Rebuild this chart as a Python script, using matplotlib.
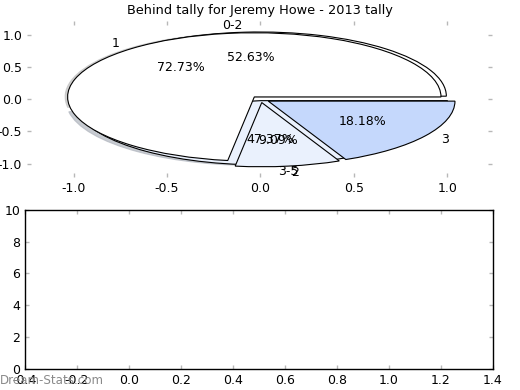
import matplotlib
matplotlib.use("Agg")
import matplotlib.pyplot as plt

title = "Behind tally for Jeremy Howe - 2013 tally"

# Pie A: goals-range tally
labels_a = ["0-2", "3-5"]
values_a = [10, 9]
colors_a = ["white", "#eaf1fd"]

# Pie B: tally per count
labels_b = ["1", "2", "3"]
values_b = [8, 1, 2]
colors_b = ["white", "#eaf1fd", "#c5d8fc"]

explode_a = [0.05, 0.02]
explode_b = [0.05, 0.05, 0.05]

bar_xlim = (-0.4, 1.4)
bar_ylim = (0, 10)
bar_xticks = [-0.4, -0.2, 0.0, 0.2, 0.4, 0.6, 0.8, 1.0, 1.2, 1.4]
bar_yticks = [0, 2, 4, 6, 8, 10]

plt.rcParams["font.family"] = "DejaVu Sans"
plt.rcParams["font.size"] = 9
plt.rcParams["axes.unicode_minus"] = False

fig = plt.figure(figsize=(5.2, 3.9), dpi=100)
ax1 = fig.add_axes([0.052, 0.546, 0.894, 0.400])
ax2 = fig.add_axes([0.048, 0.054, 0.900, 0.408])

ax1.pie(values_a, labels=labels_a, colors=colors_a, explode=explode_a,
        autopct="%1.2f%%", startangle=0,
        shadow={"ox": -0.03, "oy": -0.006, "shade": 0.25, "alpha": 0.7},
        wedgeprops=dict(edgecolor="black", linewidth=0.8))
ax1.pie(values_b, labels=labels_b, colors=colors_b, explode=explode_b,
        autopct="%1.2f%%", shadow=False, startangle=0,
        wedgeprops=dict(edgecolor="black", linewidth=0.8))
ax1.set_aspect("auto")
ax1.set_frame_on(False)
ax1.set_xlim(-1.25, 1.24)
ax1.set_ylim(-1.21, 1.22)
ax1.set_xticks([-1.0, -0.5, 0.0, 0.5, 1.0])
ax1.set_yticks([-1.0, -0.5, 0.0, 0.5, 1.0])
ax1.set_title(title, fontsize=9.3, pad=5)

ax2.set_xlim(*bar_xlim)
ax2.set_ylim(*bar_ylim)
ax2.set_xticks(bar_xticks)
ax2.set_yticks(bar_yticks)
for s in ax2.spines.values():
    s.set_linewidth(1.0)

for ax in (ax1, ax2):
    ax.tick_params(direction="in", length=3, width=1, color="#b8b8b8",
                   top=True, right=True, labelsize=9, pad=3.5)

fig.text(0.0, 0.024, "Dream-Stats.com", color="#8a8a8a", fontsize=8.6,
         ha="left", va="center")

fig.savefig("out.png", dpi=100)
